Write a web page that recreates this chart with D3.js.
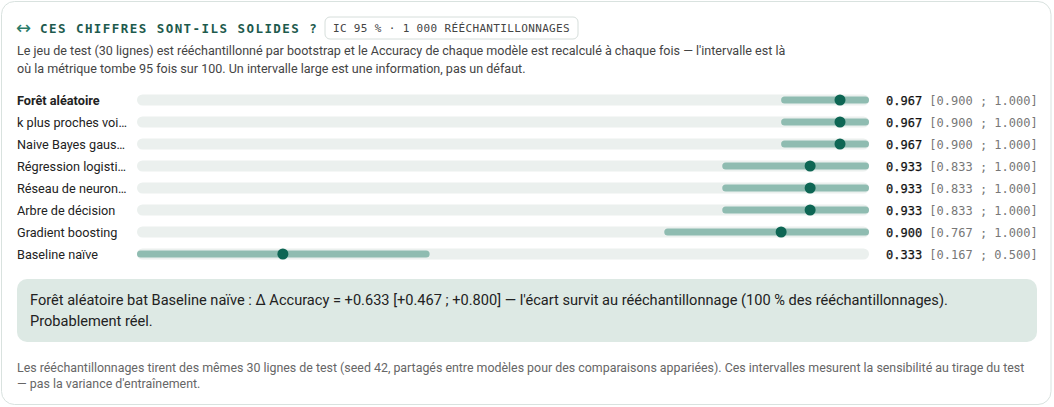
<!DOCTYPE html>
<html>
<head>
<meta charset="utf-8">
<script src="https://cdn.jsdelivr.net/npm/d3@7"></script>
<style>
  html, body { margin: 0; padding: 0; background: #fff; }
  svg { display: block; }
  .sans { font-family: Roboto, "Noto Sans", sans-serif; }
  .mono { font-family: "DejaVu Sans Mono", "Liberation Mono", monospace; }
</style>
</head>
<body>
<script>
// Données
var models = ["Forêt aléatoire", "k plus proches voi…", "Naive Bayes gaus…", "Régression logisti…",
              "Réseau de neuron…", "Arbre de décision", "Gradient boosting", "Baseline naïve"];
var accuracy = [0.967, 0.967, 0.967, 0.933, 0.933, 0.933, 0.900, 0.333];
var ciLow    = [0.900, 0.900, 0.900, 0.833, 0.833, 0.833, 0.767, 0.167];
var ciHigh   = [1.000, 1.000, 1.000, 1.000, 1.000, 1.000, 1.000, 0.500];
var bestIndex = 0;

var titleText = "CES CHIFFRES SONT-ILS SOLIDES ?";
var badgeText = "IC 95 % · 1\u2009000 RÉÉCHANTILLONNAGES";
var introLines = [
  "Le jeu de test (30 lignes) est rééchantillonné par bootstrap et le Accuracy de chaque modèle est recalculé à chaque fois — l'intervalle est là",
  "où la métrique tombe 95 fois sur 100. Un intervalle large est une information, pas un défaut."
];
var calloutLines = [
  "Forêt aléatoire bat Baseline naïve : Δ Accuracy = +0.633 [+0.467 ; +0.800] — l'écart survit au rééchantillonnage (100 % des rééchantillonnages).",
  "Probablement réel."
];
var footLines = [
  "Les rééchantillonnages tirent des mêmes 30 lignes de test (seed 42, partagés entre modèles pour des comparaisons appariées). Ces intervalles mesurent la sensibilité au tirage du test",
  "— pas la variance d'entraînement."
];

var W = 1054, H = 407;
var fmt = d3.format(".3f");

var rows = models.map(function (m, i) {
  return { name: m, acc: accuracy[i], lo: ciLow[i], hi: ciHigh[i], best: i === bestIndex };
});

var svg = d3.select("body").append("svg")
    .attr("width", W)
    .attr("height", H);

// carte
svg.append("rect")
    .attr("x", 1.5).attr("y", 1.5)
    .attr("width", W - 4.5).attr("height", H - 4)
    .attr("rx", 13)
    .attr("fill", "#fff")
    .attr("stroke", "#d9e2df");

// titre
svg.append("text")
    .attr("x", 16).attr("y", 34)
    .attr("font-family", "DejaVu Sans, sans-serif")
    .attr("font-size", 18)
    .attr("fill", "#2b7a68")
    .text("↔");
svg.append("text")
    .attr("class", "mono")
    .attr("x", 40).attr("y", 33)
    .attr("font-size", 12.5)
    .attr("font-weight", "bold")
    .attr("letter-spacing", 1.45)
    .attr("fill", "#1d5a4d")
    .text(titleText);

// badge
var badge = svg.append("g").attr("transform", "translate(325,17)");
badge.append("rect")
    .attr("width", 253).attr("height", 22)
    .attr("rx", 5)
    .attr("fill", "#fff")
    .attr("stroke", "#d6dedb");
badge.append("text")
    .attr("class", "mono")
    .attr("x", 126.5).attr("y", 15)
    .attr("text-anchor", "middle")
    .attr("font-size", 11)
    .attr("letter-spacing", 0.35)
    .attr("fill", "#444")
    .text(badgeText);

// intro
svg.append("g").selectAll("text")
    .data(introLines)
    .join("text")
    .attr("class", "sans")
    .attr("x", 17)
    .attr("y", function (d, i) { return 55 + i * 18; })
    .attr("font-size", 12.55)
    .attr("fill", "#444")
    .text(function (d) { return d; });

// échelles
var x = d3.scaleLinear()
    .domain([d3.min(ciLow), d3.max(ciHigh)])
    .range([137, 869]);

var y = d3.scaleBand()
    .domain(models)
    .range([89, 265])
    .paddingInner(0);

var trackH = 11, ciH = 7;

var row = svg.append("g").selectAll("g")
    .data(rows)
    .join("g")
    .attr("transform", function (d) { return "translate(0," + (y(d.name) + y.bandwidth() / 2) + ")"; });

row.append("text")
    .attr("class", "sans")
    .attr("x", 17)
    .attr("y", 4.5)
    .attr("font-size", 12.7)
    .attr("font-weight", function (d) { return d.best ? "bold" : "normal"; })
    .attr("fill", "#222")
    .text(function (d) { return d.name; });

row.append("rect")
    .attr("x", x.range()[0])
    .attr("y", -trackH / 2)
    .attr("width", x.range()[1] - x.range()[0])
    .attr("height", trackH)
    .attr("rx", trackH / 2)
    .attr("fill", "#ebf0ee");

row.append("rect")
    .attr("x", function (d) { return x(d.lo); })
    .attr("y", -ciH / 2)
    .attr("width", function (d) { return x(d.hi) - x(d.lo); })
    .attr("height", ciH)
    .attr("rx", ciH / 2)
    .attr("fill", "#8fbcb1");

row.append("circle")
    .attr("cx", function (d) { return x(d.acc); })
    .attr("cy", 0)
    .attr("r", 5.5)
    .attr("fill", "#0e6654");

var val = row.append("text")
    .attr("class", "mono")
    .attr("x", 886)
    .attr("y", 4.5)
    .attr("font-size", 12);
val.append("tspan")
    .attr("fill", "#111")
    .attr("stroke", "#111")
    .attr("stroke-width", 0.25)
    .text(function (d) { return fmt(d.acc); });
val.append("tspan")
    .attr("fill", "#777")
    .text(function (d) { return " [" + fmt(d.lo) + " ; " + fmt(d.hi) + "]"; });

// encadré
svg.append("rect")
    .attr("x", 17).attr("y", 279)
    .attr("width", 1020).attr("height", 63)
    .attr("rx", 10)
    .attr("fill", "#dde9e4");

svg.append("g").selectAll("text")
    .data(calloutLines)
    .join("text")
    .attr("class", "sans")
    .attr("x", 30)
    .attr("y", function (d, i) { return 305 + i * 21; })
    .attr("font-size", 14.6)
    .attr("fill", "#222")
    .text(function (d) { return d; });

// pied
svg.append("g").selectAll("text")
    .data(footLines)
    .join("text")
    .attr("class", "sans")
    .attr("x", 17)
    .attr("y", function (d, i) { return 372 + i * 16; })
    .attr("font-size", 12.4)
    .attr("fill", "#666")
    .text(function (d) { return d; });
</script>
</body>
</html>
